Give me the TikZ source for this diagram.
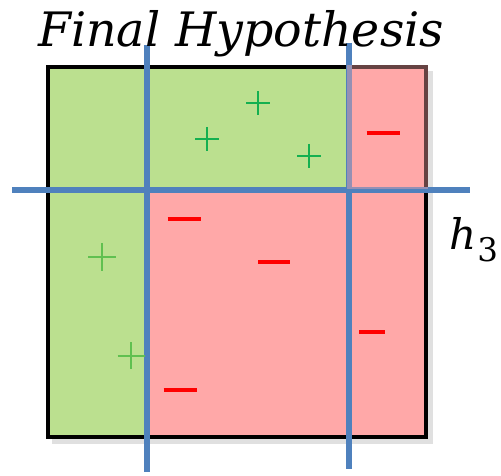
\documentclass[tikz,border=0pt]{standalone}
\usepackage{fontspec}
\newfontfamily\titlefont{DejaVu Serif}
\definecolor{gfill}{RGB}{187,224,143}
\definecolor{rfill}{RGB}{255,168,168}
\definecolor{hblue}{RGB}{79,129,189}
\definecolor{dgreen}{RGB}{20,176,80}
\definecolor{lgreen}{RGB}{96,192,80}
\definecolor{mred}{RGB}{255,0,0}
\begin{document}
\begin{tikzpicture}[x=0.02cm,y=-0.02cm,
  hline/.style={draw=hblue,line width=3.2pt},
  border/.style={draw=black,line width=2.6pt},
  pplus/.pic={\draw[line width=1.7pt] (-#1,0) -- (#1,0) (0,-#1) -- (0,#1);},
  pminus/.pic={\draw[line width=2.3pt] (-#1,0) -- (#1,0);}]
\useasboundingbox (0,0) rectangle (501,476);
% regions
\fill[gfill] (50,68) rectangle (147,437);
\fill[gfill] (147,68) rectangle (349,190);
\fill[rfill] (147,190) rectangle (426,437);
\fill[rfill] (349,68) rectangle (426,190);
% shadow and border
\draw[black!12,line width=3pt] (52,441) -- (430,441) -- (430,71);
\draw[border] (48,67) rectangle (426,437);
% separating lines
\coordinate (v1t) at (147,45); \coordinate (v1b) at (147,472);
\coordinate (v2t) at (349,43); \coordinate (v2b) at (349,469);
\coordinate (hl) at (12,190); \coordinate (hr) at (470,190);
\draw[hline] (v1t) -- (v1b);
\draw[hline] (v2t) -- (v2b);
\draw[hline] (hl) -- (hr);
% top-right overlay
\fill[rfill,opacity=0.4] (347,65) rectangle (428,189);
% pluses
\pic[draw=dgreen] at (258,103) {pplus=12};
\pic[draw=dgreen] at (207,139) {pplus=12};
\pic[draw=dgreen] at (309,156) {pplus=12};
\pic[draw=lgreen] at (102,257) {pplus=14};
\pic[draw=lgreen] at (131,356) {pplus=13.5};
% minuses
\pic[draw=mred] at (383,133) {pminus=16.5};
\pic[draw=mred] at (184,219) {pminus=16.5};
\pic[draw=mred] at (274,262) {pminus=16};
\pic[draw=mred,line width=1.8pt] at (372,332) {pminus=13};
\pic[draw=mred] at (180,390) {pminus=16.5};
% labels
\node[anchor=base,inner sep=0pt] (title) at (241,47) {\fontsize{27}{28}\titlefont\itshape Final Hypothesis};
\node[anchor=base west,inner sep=0pt] (h3) at (449,250) {\fontsize{24}{25}\titlefont\itshape h\kern0.5pt\raisebox{-6.8pt}{\fontsize{18.5}{19}\selectfont\upshape 3}};
\end{tikzpicture}
\end{document}
